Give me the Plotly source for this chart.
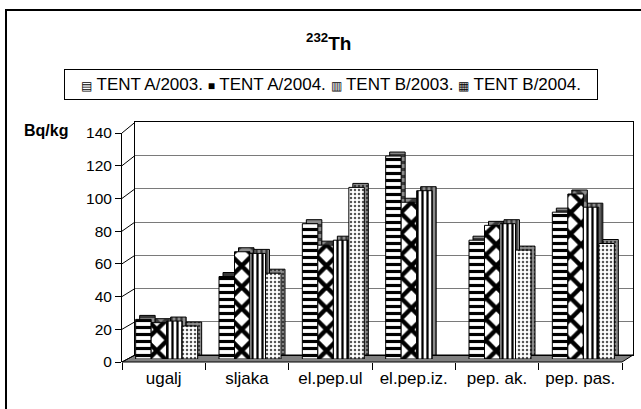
import plotly.graph_objects as go

# values (Bq/kg)
categories = ['ugalj', 'sljaka', 'el.pep.ul', 'el.pep.iz.', 'pep. ak.', 'pep. pas.']
series_names = ['TENT A/2003.', 'TENT A/2004.', 'TENT B/2003.', 'TENT B/2004.']
tent_a_2003 = [24, 50, 82, 123, 72, 89]
tent_a_2004 = [22, 65, 69, 95, 81, 100]
tent_b_2003 = [23, 64, 72, 102, 82, 92]
tent_b_2004 = [20, 52, 104, None, 66, 70]
y_ticks = [0, 20, 40, 60, 80, 100, 120, 140]

W, H = 641, 409
FONT = 'Liberation Sans, Arial, sans-serif'


def dom_x(left, right):
    return [left / W, right / W]


def dom_y(bottom, top):
    return [1 - bottom / H, 1 - top / H]


patterns = [
    dict(shape='-', size=7, solidity=0.45),
    dict(shape='x', size=15, solidity=0.5),
    dict(shape='|', size=5, solidity=0.45),
    dict(shape='.', size=4, solidity=0.3),
]
dot_fg = ['black', 'black', 'black', '#555555']

all_series = [tent_a_2003, tent_a_2004, tent_b_2003, tent_b_2004]

fig = go.Figure()

# back wall holder (gridlines)
fig.add_trace(go.Scatter(x=[0], y=[None], xaxis='x', yaxis='y', showlegend=False, hoverinfo='skip'))

# shadow bars -> fake 3D depth
for vals, pat in zip(all_series, patterns):
    fig.add_trace(go.Bar(
        x=categories, y=vals, xaxis='x2', yaxis='y2', showlegend=False,
        marker=dict(color='#8c8c8c', line=dict(color='black', width=1),
                    pattern=dict(fgcolor='black', fgopacity=0.6, **pat)),
        hoverinfo='skip'))

# front bars
for vals, name, pat, fg in zip(all_series, series_names, patterns, dot_fg):
    fig.add_trace(go.Bar(
        x=categories, y=vals, name=name, xaxis='x3', yaxis='y3', showlegend=False,
        marker=dict(color='white', line=dict(color='black', width=1),
                    pattern=dict(fgcolor=fg, fgopacity=1, **pat))))

# front axes holder (ticks and labels)
fig.add_trace(go.Scatter(x=categories, y=[None] * 6, xaxis='x4', yaxis='y4',
                         showlegend=False, hoverinfo='skip'))

hidden = dict(showgrid=False, zeroline=False, showticklabels=False, ticks='', showline=False,
              automargin=False)

fig.update_layout(
    width=W, height=H,
    margin=dict(l=0, r=0, t=0, b=0, pad=0, autoexpand=False),
    paper_bgcolor='white', plot_bgcolor='rgba(0,0,0,0)',
    font=dict(family=FONT, color='black'),
    barmode='group', bargap=0.256, bargroupgap=0,
    showlegend=False,
    # back wall
    xaxis=dict(domain=dom_x(135, 633), range=[-0.5, 5.5], anchor='y', automargin=False,
               showgrid=False, zeroline=False, showticklabels=False, ticks='',
               showline=True, mirror=True, linecolor='black', linewidth=1),
    yaxis=dict(domain=dom_y(355, 122.3), range=[0, 140], anchor='x', dtick=20, automargin=False,
               showgrid=True, gridcolor='#7a7a7a', gridwidth=1, zeroline=False,
               showticklabels=False, ticks='',
               showline=True, mirror=True, linecolor='black', linewidth=1),
    # shadow plane
    xaxis2=dict(domain=dom_x(129, 629), range=[-0.5, 5.5], anchor='y2', type='category', **hidden),
    yaxis2=dict(domain=dom_y(355, 124), range=[0, 140], anchor='x2', **hidden),
    # bar plane
    xaxis3=dict(domain=dom_x(125, 625), range=[-0.5, 5.5], anchor='y3', type='category', **hidden),
    yaxis3=dict(domain=dom_y(359, 128), range=[0, 140], anchor='x3', **hidden),
    # front axes
    xaxis4=dict(domain=dom_x(122, 622), range=[-0.5, 5.5], anchor='y4', type='category',
                automargin=False, showgrid=False, zeroline=False, showline=False,
                ticks='outside', ticklen=7, tickcolor='black', tickson='boundaries',
                ticklabelstandoff=4,
                tickfont=dict(size=17, family=FONT)),
    yaxis4=dict(domain=dom_y(362, 133), range=[0, 140], anchor='x4', tickvals=y_ticks,
                automargin=False, showgrid=False, zeroline=False,
                showline=True, linecolor='black', linewidth=1,
                ticks='outside', ticklen=6, tickcolor='black',
                tickfont=dict(size=15.5, family=FONT)),
)

shapes = []
# floor
fx0, fy0 = 122 / W, 1 - 362 / H
fx1 = 622 / W
bx0, by0 = 135 / W, 1 - 355 / H
bx1 = 633 / W
shapes.append(dict(type='path', xref='paper', yref='paper', layer='below',
                   path=f'M {fx0},{fy0} L {fx1},{fy0} L {bx1},{by0} L {bx0},{by0} Z',
                   fillcolor='#808080', line=dict(color='black', width=1)))
# left wall connectors from front ticks to back gridlines
for v in y_ticks:
    yf = 1 - (362 - v * 229 / 140) / H
    yb = 1 - (355 - v * 232.7 / 140) / H
    shapes.append(dict(type='line', xref='paper', yref='paper', layer='below',
                       x0=122 / W, y0=yf, x1=135 / W, y1=yb,
                       line=dict(color='black', width=1)))
# outer chart frame
shapes.append(dict(type='rect', xref='paper', yref='paper',
                   x0=6 / W, y0=-0.05, x1=1.05, y1=1 - 10 / H,
                   line=dict(color='black', width=2)))
fig.update_layout(shapes=shapes)

sym = '<span style="font-size:12px">{}</span>'
legend_text = ' '.join(sym.format(s) + ' ' + n for s, n in zip(['▤', '■', '▥', '▦'], series_names))

fig.update_layout(annotations=[
    dict(text='<b><sup>232</sup>Th</b>', x=328 / W, y=1 - 42 / H, xref='paper', yref='paper',
         showarrow=False, xanchor='center', yanchor='middle',
         font=dict(size=19, family=FONT)),
    dict(text=legend_text, x=331.3 / W, y=1 - 84.7 / H, xref='paper', yref='paper',
         showarrow=False, xanchor='center', yanchor='middle',
         width=532, height=29, borderpad=0, bordercolor='black', borderwidth=1,
         font=dict(size=17, family=FONT)),
    dict(text='<b>Bq/kg</b>', x=22 / W, y=1 - 130.5 / H, xref='paper', yref='paper',
         showarrow=False, xanchor='left', yanchor='middle',
         font=dict(size=16, family=FONT)),
])

fig.write_html('out.html', config={'displayModeBar': False},
               post_script="document.body.style.margin='0px';")
